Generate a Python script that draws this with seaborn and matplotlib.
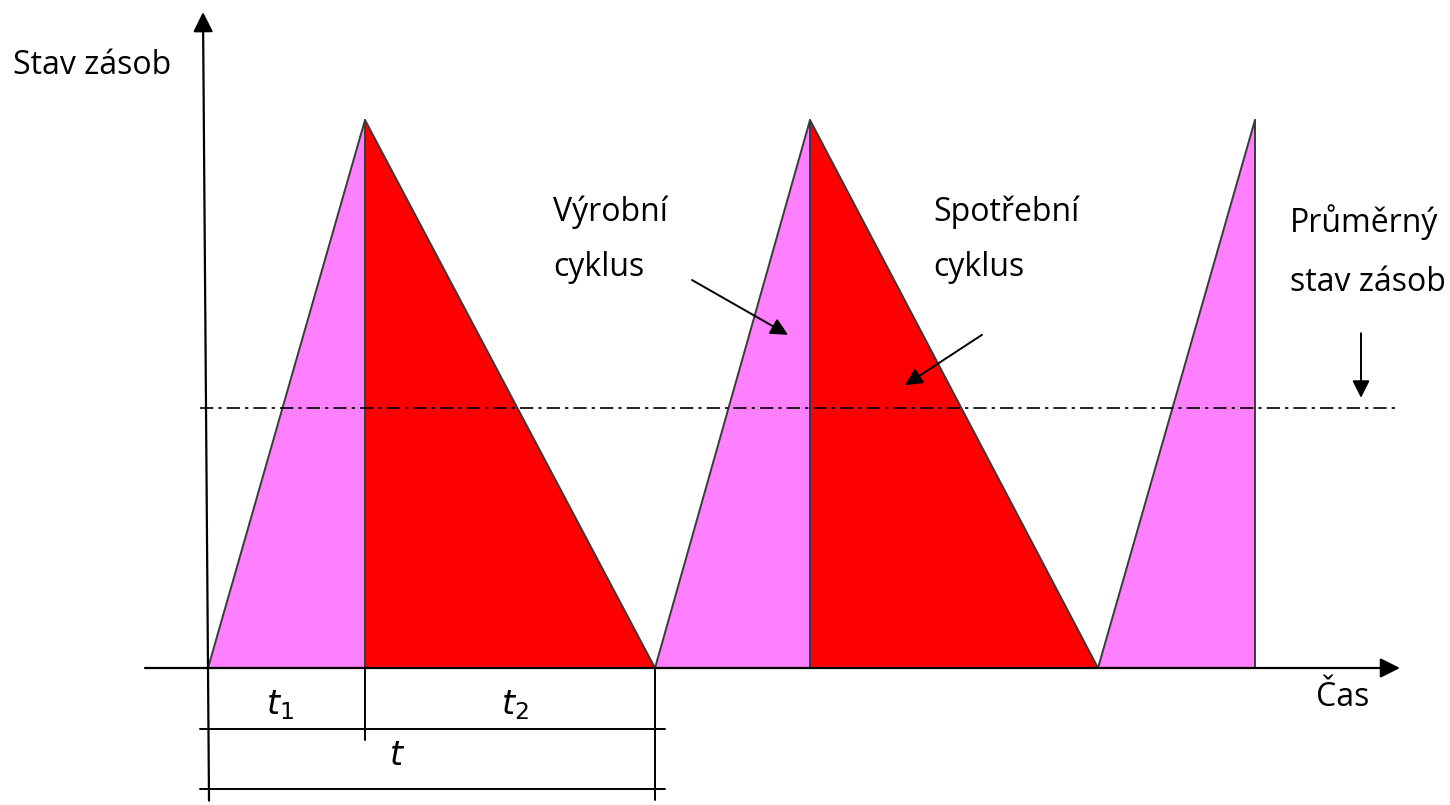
import numpy as np
import pandas as pd
import matplotlib
matplotlib.use("Agg")
import matplotlib.pyplot as plt
import seaborn as sns

# Data: cycle times (time units) and stock levels
start_times = [0.0, 4.47, 8.90]     # start of production (stock = 0)
peak_times = [1.57, 6.02, 10.47]    # end of production t1 (maximum stock)
end_times = [4.47, 8.90, None]      # end of consumption t2 (stock = 0)
peak_level = 1.0
avg_level = 0.475

sns.set_theme(style="white")
plt.rcParams['font.family'] = ['Open Sans', 'DejaVu Sans']
plt.rcParams['text.color'] = 'black'

fig = plt.figure(figsize=(14.5, 8.05), dpi=100)
ax = fig.add_axes([0, 0, 1, 1])
ax.set_xlim(-2.08, 12.42)
ax.set_ylim(-0.25, 1.219)
ax.axis("off")

pink = "#FF80FF"
red = "#FF0000"
edge = "#3a3a3a"

# fills
for ts, tp, te in zip(start_times, peak_times, end_times):
    ax.fill([ts, tp, tp], [0, peak_level, 0], color=pink, lw=0, zorder=1)
    if te is not None:
        ax.fill([tp, tp, te], [0, peak_level, 0], color=red, lw=0, zorder=1)

# sawtooth outline
saw_x, saw_y = [], []
for ts, tp, te in zip(start_times, peak_times, end_times):
    saw_x += [ts, tp]
    saw_y += [0, peak_level]
saw = pd.DataFrame({"t": saw_x, "stav": saw_y})
sns.lineplot(data=saw, x="t", y="stav", sort=False, color=edge, lw=1.4, ax=ax, zorder=3)
for tp in peak_times:
    ax.plot([tp, tp], [0, peak_level], color=edge, lw=1.4, zorder=3)

# average stock line
ax.plot([-0.08, 11.87], [avg_level, avg_level], color="black", lw=1.2,
        linestyle=(0, (8, 3, 2, 3)), zorder=4)

# axes arrows
ax.annotate("", xy=(-0.05, 1.197), xytext=(0.01, -0.242),
            arrowprops=dict(arrowstyle="-|>", color="black", lw=1.6,
                            mutation_scale=30, shrinkA=0, shrinkB=0), zorder=5)
ax.annotate("", xy=(11.92, 0), xytext=(-0.63, 0),
            arrowprops=dict(arrowstyle="-|>", color="black", lw=1.6,
                            mutation_scale=30, shrinkA=0, shrinkB=0), zorder=5)

# dimension lines under the time axis
ax.plot([-0.08, 4.57], [-0.111, -0.111], color="black", lw=1.4)
ax.plot([-0.08, 4.57], [-0.221, -0.221], color="black", lw=1.4)
ax.plot([peak_times[0], peak_times[0]], [0, -0.131], color="black", lw=1.4)
ax.plot([end_times[0], end_times[0]], [0, -0.241], color="black", lw=1.4)

# labels
fs = 23
ax.text(-1.95, 1.100, "Stav zásob", fontsize=fs, va="center", ha="left")
ax.text(11.08, -0.053, "Čas", fontsize=fs, va="center", ha="left")
ax.text(3.45, 0.832, "Výrobní", fontsize=fs, va="center", ha="left")
ax.text(3.45, 0.730, "cyklus", fontsize=fs, va="center", ha="left")
ax.text(7.25, 0.832, "Spotřební", fontsize=fs, va="center", ha="left")
ax.text(7.25, 0.730, "cyklus", fontsize=fs, va="center", ha="left")
ax.text(10.82, 0.814, "Průměrný", fontsize=fs, va="center", ha="left")
ax.text(10.82, 0.704, "stav zásob", fontsize=fs, va="center", ha="left")
ax.text(0.72, -0.068, "$t_1$", fontsize=24, va="center", ha="center")
ax.text(3.07, -0.068, "$t_2$", fontsize=24, va="center", ha="center")
ax.text(1.89, -0.162, "$t$", fontsize=24, va="center", ha="center")

# pointer arrows
arrow_kw = dict(arrowstyle="-|>", color="black", lw=1.4, mutation_scale=26,
                shrinkA=0, shrinkB=0)
ax.annotate("", xy=(5.80, 0.608), xytext=(4.84, 0.708), arrowprops=arrow_kw, zorder=6)
ax.annotate("", xy=(6.97, 0.516), xytext=(7.74, 0.608), arrowprops=arrow_kw, zorder=6)
ax.annotate("", xy=(11.53, 0.493), xytext=(11.53, 0.611), arrowprops=arrow_kw, zorder=6)

fig.savefig("out.png", dpi=100, facecolor="white")
